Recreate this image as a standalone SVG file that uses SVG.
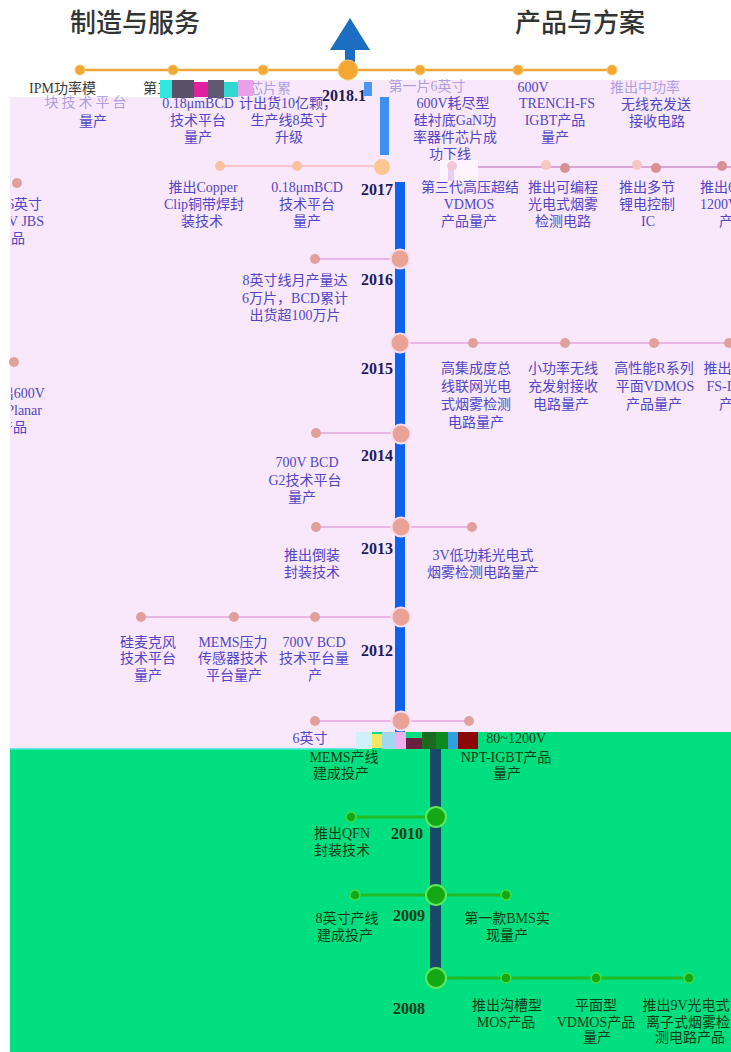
<svg xmlns="http://www.w3.org/2000/svg" width="731" height="1052" viewBox="0 0 731 1052">
<defs>
<style>
.t{font-family:"Liberation Serif","Noto Sans CJK SC",serif;font-size:14px;fill:#5246c6;text-anchor:middle}
.tg{font-family:"Liberation Serif","Noto Sans CJK SC",serif;font-size:14px;fill:#103c14;text-anchor:middle}
.tk{font-family:"Liberation Serif","Noto Sans CJK SC",serif;font-size:14px;fill:#3a3a3a;text-anchor:start}
.yr{font-family:"Liberation Serif",serif;font-size:16px;font-weight:bold;fill:#1c1c5e}
.yg{font-family:"Liberation Serif",serif;font-size:16px;font-weight:bold;fill:#103c14}
.hd{font-family:"Noto Sans CJK SC",sans-serif;font-size:26px;font-weight:500;fill:#333}
.fa{opacity:0.45}
.od{fill:#f2a832;stroke:#f7c870;stroke-width:1}
.pd{fill:#e2a09a}
.pb{fill:#e8a296;stroke:#f8dcef;stroke-width:2}
.gd{fill:#14a814;stroke:#44dd44;stroke-width:1.5}
.gb{fill:#14a814;stroke:#5ee65e;stroke-width:2}
.ol{stroke:#eea63a;stroke-width:2.5;fill:none}
.pl{stroke:#ebb4e6;stroke-width:2;fill:none}
.gl{stroke:#22bb22;stroke-width:3;fill:none}
</style>
<clipPath id="cl"><rect x="11" y="0" width="720" height="1052"/></clipPath>
</defs>
<rect x="0" y="0" width="731" height="1052" fill="#ffffff"/>
<path d="M10,97 H253 V80 H731 V732 H356 V749 H10 Z" fill="#f9e8fb"/>
<path d="M10,749 H356 V732 H731 V1052 H10 Z" fill="#00df80"/>
<line x1="10" y1="749" x2="356" y2="749" stroke="#40e4d8" stroke-width="1.5"/>

<g id="headers">
<text class="hd" x="70" y="32">制造与服务</text>
<text class="hd" x="515" y="32">产品与方案</text>
</g>

<g id="bars">
<rect x="395" y="182" width="10" height="550" fill="#0d62f0"/>
<rect x="380" y="97" width="9" height="58" fill="#3d8ff2"/>
<rect x="364" y="82" width="8" height="14" fill="#4a98f0"/>
<rect x="430" y="732" width="11" height="246" fill="#164a66"/>
</g>

<g id="connectors">
<line class="ol" x1="80" y1="70" x2="612" y2="70"/>
<line x1="220" y1="166" x2="382" y2="166" stroke="#f6c6cc" stroke-width="2"/>
<line x1="440" y1="167" x2="731" y2="167" stroke="#d8a6d8" stroke-width="2"/>
<line class="pl" x1="315" y1="259" x2="400" y2="259"/>
<line class="pl" x1="400" y1="343" x2="731" y2="343"/>
<line class="pl" x1="316" y1="433" x2="401" y2="433"/>
<line class="pl" x1="316" y1="527" x2="472" y2="527"/>
<line class="pl" x1="141" y1="617" x2="401" y2="617"/>
<line class="pl" x1="315" y1="721" x2="469" y2="721"/>
<line class="gl" x1="351" y1="817" x2="436" y2="817"/>
<line class="gl" x1="355" y1="895" x2="506" y2="895"/>
<line class="gl" x1="436" y1="978" x2="689" y2="978"/>
</g>

<g id="arrow">
<polygon points="330,50 370,50 350,18" fill="#1b6ec2"/>
<rect x="345" y="49" width="10" height="13" fill="#1b6ec2"/>
</g>

<g id="n2018">
<circle class="od" cx="80" cy="70" r="5"/>
<circle class="od" cx="173" cy="70" r="5"/>
<circle class="od" cx="263" cy="70" r="5"/>
<circle class="od" cx="348" cy="70" r="10"/>
<circle class="od" cx="420" cy="70" r="5"/>
<circle class="od" cx="518" cy="70" r="5"/>
<circle class="od" cx="612" cy="70" r="5"/>
<text class="tk" x="29" y="93">IPM功率模</text>
<text class="t fa" x="87" y="107" letter-spacing="3">块技术平台</text>
<text class="t" x="93" y="126">量产</text>
<text class="tk" x="143" y="93">第三</text>
<text class="t" x="198" y="108">0.18μmBCD</text>
<text class="t" x="198" y="125">技术平台</text>
<text class="t" x="198" y="142">量产</text>
<text class="t fa" x="270" y="93">芯片累</text>
<text class="t" x="288" y="108">计出货10亿颗，</text>
<text class="t" x="289" y="125">生产线8英寸</text>
<text class="t" x="289" y="142">升级</text>
<text class="yr" x="322" y="101">2018.1</text>
<text class="t fa" x="427" y="91">第一片6英寸</text>
<text class="t" x="453" y="108">600V耗尽型</text>
<text class="t" x="455" y="125">硅衬底GaN功</text>
<text class="t" x="455" y="142">率器件芯片成</text>
<text class="t" x="450" y="159">功下线</text>
<text class="t" x="533" y="92">600V</text>
<text class="t" x="557" y="108">TRENCH-FS</text>
<text class="t" x="555" y="125">IGBT产品</text>
<text class="t" x="555" y="142">量产</text>
<text class="t fa" x="645" y="92">推出中功率</text>
<text class="t" x="656" y="109">无线充发送</text>
<text class="t" x="657" y="126">接收电路</text>
</g>

<g id="glitch">
<rect x="160" y="80" width="12" height="18" fill="#30e8e0"/>
<rect x="172" y="80" width="22" height="18" fill="#5a5068"/>
<rect x="194" y="82" width="14" height="15" fill="#e020a0"/>
<rect x="208" y="80" width="16" height="18" fill="#605870"/>
<rect x="224" y="82" width="14" height="15" fill="#30d8d0"/>
<rect x="238" y="80" width="15" height="16" fill="#e8a0e8"/>
<rect x="440" y="160" width="38" height="23" fill="#fdf4fd"/>
<rect x="448" y="163" width="6" height="18" fill="#e8d0f4"/>
<rect x="356" y="732" width="16" height="17" fill="#d0f0f8"/>
<rect x="372" y="734" width="10" height="14" fill="#f0e860"/>
<rect x="382" y="732" width="14" height="17" fill="#a0d8f0"/>
<rect x="396" y="732" width="10" height="17" fill="#f0b0f0"/>
<rect x="406" y="738" width="16" height="11" fill="#6a2040"/>
<rect x="422" y="732" width="14" height="17" fill="#1a6a20"/>
<rect x="436" y="732" width="12" height="17" fill="#0a8a20"/>
<rect x="448" y="732" width="10" height="17" fill="#30a0e0"/>
<rect x="458" y="732" width="20" height="17" fill="#8a0808"/>
</g>

<g id="n2017">
<circle cx="220" cy="166" r="5" fill="#f8c2a0"/>
<circle cx="297" cy="166" r="5" fill="#f8c2a0"/>
<circle cx="382" cy="167" r="8" fill="#fcc690"/>
<circle cx="452" cy="166" r="5" fill="#f0c8d8"/>
<circle cx="546" cy="165" r="5" fill="#f4c8c0"/>
<circle cx="565" cy="168" r="5" fill="#d89090"/>
<circle cx="637" cy="165" r="5" fill="#f4c8c0"/>
<circle cx="656" cy="168" r="5" fill="#d89090"/>
<circle cx="722" cy="166" r="5" fill="#d89090"/>
<circle cx="17" cy="183" r="5" fill="#e2a09a"/>
<g clip-path="url(#cl)">
<text class="t" x="42" y="209" text-anchor="end" style="text-anchor:end">推出6英寸</text>
<text class="t" x="44" y="226" style="text-anchor:end">650V JBS</text>
<text class="t" x="25" y="243" style="text-anchor:end">产品</text>
</g>
<text class="t" x="203" y="192">推出Copper</text>
<text class="t" x="204" y="209">Clip铜带焊封</text>
<text class="t" x="202" y="226">装技术</text>
<text class="t" x="307" y="192">0.18μmBCD</text>
<text class="t" x="307" y="209">技术平台</text>
<text class="t" x="307" y="226">量产</text>
<text class="yr" x="361" y="195">2017</text>
<text class="t" x="470" y="192">第三代高压超结</text>
<text class="t" x="469" y="209">VDMOS</text>
<text class="t" x="469" y="226">产品量产</text>
<text class="t" x="563" y="192">推出可编程</text>
<text class="t" x="563" y="209">光电式烟雾</text>
<text class="t" x="563" y="226">检测电路</text>
<text class="t" x="647" y="192">推出多节</text>
<text class="t" x="647" y="209">锂电控制</text>
<text class="t" x="648" y="226">IC</text>
<text class="t" x="700" y="192" style="text-anchor:start">推出650V</text>
<text class="t" x="700" y="209" style="text-anchor:start">1200V IGBT</text>
<text class="t" x="719" y="226" style="text-anchor:start">产品</text>
</g>

<g id="n2016">
<circle class="pd" cx="315" cy="259" r="5"/>
<circle class="pb" cx="400" cy="259" r="9.5"/>
<text class="t" x="295" y="285">8英寸线月产量达</text>
<text class="t" x="295" y="303">6万片，BCD累计</text>
<text class="t" x="295" y="320">出货超100万片</text>
<text class="yr" x="361" y="285">2016</text>
</g>

<g id="n2015">
<circle class="pb" cx="400" cy="343" r="9.5"/>
<circle class="pd" cx="473" cy="343" r="5"/>
<circle class="pd" cx="565" cy="343" r="5"/>
<circle class="pd" cx="654" cy="343" r="5"/>
<circle class="pd" cx="729" cy="343" r="5"/>
<circle class="pd" cx="14" cy="362" r="5"/>
<g clip-path="url(#cl)">
<text class="t" x="45" y="398" style="text-anchor:end">推出600V</text>
<text class="t" x="42" y="415" style="text-anchor:end">Planar</text>
<text class="t" x="27" y="432" style="text-anchor:end">产品</text>
</g>
<text class="yr" x="361" y="374">2015</text>
<text class="t" x="476" y="373">高集成度总</text>
<text class="t" x="476" y="391">线联网光电</text>
<text class="t" x="476" y="409">式烟雾检测</text>
<text class="t" x="476" y="427">电路量产</text>
<text class="t" x="563" y="373">小功率无线</text>
<text class="t" x="563" y="391">充发射接收</text>
<text class="t" x="561" y="409">电路量产</text>
<text class="t" x="654" y="373">高性能R系列</text>
<text class="t" x="655" y="391">平面VDMOS</text>
<text class="t" x="654" y="409">产品量产</text>
<text class="t" x="733" y="373">推出650V</text>
<text class="t" x="733" y="391">FS-IGBT</text>
<text class="t" x="733" y="409">产品</text>
</g>

<g id="n2014">
<circle class="pd" cx="316" cy="433" r="5"/>
<circle class="pb" cx="401" cy="434" r="9.5"/>
<text class="t" x="307" y="467">700V BCD</text>
<text class="t" x="305" y="485">G2技术平台</text>
<text class="t" x="302" y="502">量产</text>
<text class="yr" x="361" y="461">2014</text>
</g>

<g id="n2013">
<circle class="pd" cx="316" cy="527" r="5"/>
<circle class="pb" cx="401" cy="527" r="9.5"/>
<circle class="pd" cx="472" cy="527" r="5"/>
<text class="t" x="312" y="560">推出倒装</text>
<text class="t" x="312" y="577">封装技术</text>
<text class="yr" x="361" y="554">2013</text>
<text class="t" x="483" y="560">3V低功耗光电式</text>
<text class="t" x="483" y="577">烟雾检测电路量产</text>
</g>

<g id="n2012">
<circle class="pd" cx="141" cy="617" r="5"/>
<circle class="pd" cx="234" cy="617" r="5"/>
<circle class="pd" cx="315" cy="617" r="5"/>
<circle class="pb" cx="401" cy="617" r="9.5"/>
<text class="t" x="148" y="647">硅麦克风</text>
<text class="t" x="148" y="663">技术平台</text>
<text class="t" x="148" y="680">量产</text>
<text class="t" x="233" y="647">MEMS压力</text>
<text class="t" x="233" y="663">传感器技术</text>
<text class="t" x="234" y="680">平台量产</text>
<text class="t" x="314" y="647">700V BCD</text>
<text class="t" x="314" y="663">技术平台量</text>
<text class="t" x="315" y="680">产</text>
<text class="yr" x="361" y="656">2012</text>
</g>

<g id="n2011">
<circle class="pd" cx="315" cy="721" r="5"/>
<circle class="pb" cx="401" cy="721" r="9.5"/>
<circle class="pd" cx="469" cy="721" r="5"/>
<text class="t" x="310" y="743">6英寸</text>
<text class="tg" x="546" y="743" style="text-anchor:end">80~1200V</text>
<text class="tg" x="344" y="762">MEMS产线</text>
<text class="tg" x="341" y="778">建成投产</text>
<text class="tg" x="506" y="762">NPT-IGBT产品</text>
<text class="tg" x="507" y="778">量产</text>
</g>

<g id="n2010">
<circle class="gd" cx="351" cy="817" r="5"/>
<circle class="gb" cx="436" cy="817" r="10"/>
<text class="tg" x="342" y="838">推出QFN</text>
<text class="tg" x="342" y="855">封装技术</text>
<text class="yg" x="391" y="839">2010</text>
</g>

<g id="n2009">
<circle class="gd" cx="355" cy="895" r="5"/>
<circle class="gb" cx="436" cy="895" r="10"/>
<circle class="gd" cx="506" cy="895" r="5"/>
<text class="tg" x="347" y="923">8英寸产线</text>
<text class="tg" x="345" y="940">建成投产</text>
<text class="yg" x="393" y="921">2009</text>
<text class="tg" x="507" y="923">第一款BMS实</text>
<text class="tg" x="507" y="940">现量产</text>
</g>

<g id="n2008">
<circle class="gb" cx="436" cy="978" r="10"/>
<circle class="gd" cx="506" cy="978" r="5"/>
<circle class="gd" cx="596" cy="978" r="5"/>
<circle class="gd" cx="689" cy="978" r="5"/>
<text class="yg" x="393" y="1014">2008</text>
<text class="tg" x="507" y="1010">推出沟槽型</text>
<text class="tg" x="506" y="1027">MOS产品</text>
<text class="tg" x="596" y="1010">平面型</text>
<text class="tg" x="596" y="1027">VDMOS产品</text>
<text class="tg" x="597" y="1042">量产</text>
<text class="tg" x="686" y="1010">推出9V光电式</text>
<text class="tg" x="688" y="1027">离子式烟雾检</text>
<text class="tg" x="690" y="1042">测电路产品</text>
</g>
</svg>
